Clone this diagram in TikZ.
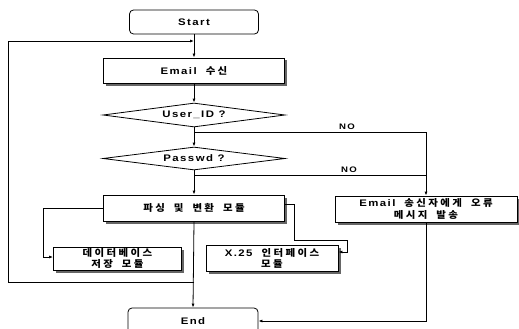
\documentclass[tikz,border=0pt]{standalone}
\usepackage{fontspec}
\setmainfont{Liberation Sans}[FakeStretch=1.2,LetterSpace=15]
\newfontfamily\kr{Noto Sans CJK KR}[FakeStretch=1.1,LetterSpace=25]
\newcommand\gp{\hspace{9pt}}
\usetikzlibrary{shapes.geometric,arrows.meta,shadows}
\begin{document}
\begin{tikzpicture}[x=1pt,y=-1pt,
  font=\fontsize{9.5}{11.5}\selectfont\bfseries,
  every path/.style={line width=0.8pt},
  arr/.style={-{Latex[length=4pt,width=3pt]}},
  shad/.style={drop shadow={shadow xshift=2.5pt,shadow yshift=-2.5pt,fill=black!60,opacity=1}},
  box/.style={draw,fill=white,rectangle,inner sep=0pt,align=center,shad},
  rbox/.style={draw,fill=white,rectangle,rounded corners=4pt,inner sep=0pt,align=center},
  dia/.style={draw,fill=white,diamond,shape aspect=8,inner sep=0pt},
  lbl/.style={font=\fontsize{8}{9}\selectfont\bfseries,inner sep=1pt}]
\useasboundingbox (0,0) rectangle (519,329);
\node[rbox,minimum width=129pt,minimum height=24pt] (start) at (194,22) {Start};
\node[box,minimum width=181pt,minimum height=25pt] (email) at (194,70.5) {Email\gp{\kr 수신}};
\node[dia,minimum width=182pt,minimum height=24pt] (uid) at (194,115) {User\_ID ?};
\node[dia,minimum width=182pt,minimum height=23pt] (pw) at (194,158.5) {Passwd ?};
\node[box,minimum width=181pt,minimum height=26pt] (parse) at (194,208) {\kr 파싱\gp 및\gp 변환\gp 모듈};
\node[box,minimum width=182pt,minimum height=26pt] (err) at (426,209) {Email\gp{\kr 송신자에게\gp 오류}\\{\kr 메시지\gp 발송}};
\node[box,minimum width=128pt,minimum height=23pt] (db) at (117.5,258.5) {{\kr 데이터베이스}\\{\kr 저장\gp 모듈}};
\node[box,minimum width=132pt,minimum height=26pt] (x25) at (272,258.5) {X.25\gp{\kr 인터페이스}\\{\kr 모듈}};
\node[rbox,minimum width=130pt,minimum height=26pt] (end) at (193,321) {End};

\coordinate (lt) at (194,41);
\coordinate (lb) at (194,282);
\coordinate (n1) at (194,132);
\coordinate (n2) at (194,175);
\coordinate (n1r) at (426,132);
\coordinate (n2r) at (426,175);

\draw[arr] (start.south) -- (email.north);
\draw[arr] (lb) -- (8,282) -- (8,41) -- (lt);
\draw[arr] (email.south) -- (uid.north);
\draw[arr] (uid.south) -- (pw.north);
\draw[arr] (pw.south) -- (parse.north);
\draw[arr] (parse.south) -- (end.north);
\draw[arr] (n1) -- (n1r) -- (err.north);
\draw (n2) -- (n2r);
\node[lbl] (no1) at (347,126.5) {NO};
\node[lbl] (no2) at (349,169.5) {NO};
\draw[arr] (parse.west |- 0,208) -- (43,208) -- (43,257) -- (db.west |- 0,257);
\draw[arr] (parse.east |- 0,204) -- (294,204) -- (294,240) -- (347,240) -- (347,252) -- (x25.east |- 0,252);
\draw[arr] (err.south) -- (426,321) -- (end.east |- 0,321);
\end{tikzpicture}
\end{document}
